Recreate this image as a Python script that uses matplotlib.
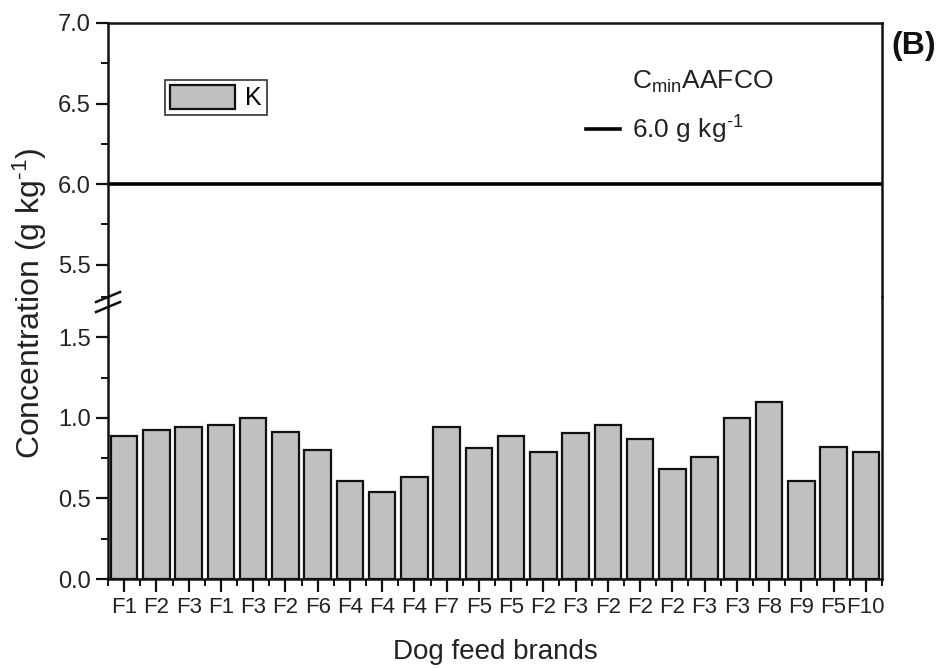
import matplotlib
matplotlib.use("Agg")
import matplotlib.pyplot as plt
from matplotlib.ticker import MultipleLocator, FixedLocator
from matplotlib.lines import Line2D
import numpy as np

plt.rcParams['font.family'] = ['Liberation Sans', 'DejaVu Sans']
plt.rcParams['mathtext.fontset'] = 'custom'
plt.rcParams['mathtext.rm'] = 'Liberation Sans'
plt.rcParams['mathtext.it'] = 'Liberation Sans:italic'
plt.rcParams['mathtext.bf'] = 'Liberation Sans:bold'
plt.rcParams['mathtext.default'] = 'regular'

brands = ['F1', 'F2', 'F3', 'F1', 'F3', 'F2', 'F6', 'F4', 'F4', 'F4', 'F7', 'F5',
          'F5', 'F2', 'F3', 'F2', 'F2', 'F2', 'F3', 'F3', 'F8', 'F9', 'F5', 'F10']
k_values = [0.89, 0.925, 0.945, 0.955, 1.00, 0.915, 0.80, 0.61, 0.54, 0.63, 0.945, 0.81,
            0.89, 0.79, 0.905, 0.955, 0.87, 0.68, 0.76, 1.00, 1.10, 0.61, 0.82, 0.79]
aafco_min = 6.0
upper_ticks = [5.5, 6.0, 6.5, 7.0]
lower_ticks = [0.0, 0.5, 1.0, 1.5]

L, R, T, B = 0.1142, 0.9323, 0.9656, 0.1332

fig = plt.figure(figsize=(9.46, 6.68), dpi=100)
gs = fig.add_gridspec(2, 1, height_ratios=[1.7, 1.75], hspace=0,
                      left=L, right=R, top=T, bottom=B)
ax_up = fig.add_subplot(gs[0])
ax_lo = fig.add_subplot(gs[1], sharex=ax_up)

x = np.arange(len(brands))
bar_kw = dict(width=0.82, color='#c0c0c0', edgecolor='#111111', linewidth=1.6)
ax_up.bar(x, k_values, label='K', **bar_kw)
ax_lo.bar(x, k_values, **bar_kw)

line = ax_up.axhline(aafco_min, color='black', linewidth=2.6)

ax_up.set_ylim(5.3, 7.0)
ax_lo.set_ylim(0.0, 1.75)
ax_lo.set_xlim(-0.5, len(brands) - 0.5)

for ax in (ax_up, ax_lo):
    for s in ax.spines.values():
        s.set_linewidth(1.8)
        s.set_color('#111111')
    ax.tick_params(axis='both', which='major', direction='out', length=9, width=1.6,
                   labelsize=17, colors='#111111', labelcolor='#222222')
    ax.tick_params(axis='both', which='minor', direction='out', length=5, width=1.4,
                   colors='#111111')
    ax.yaxis.set_minor_locator(MultipleLocator(0.25))

ax_up.spines['bottom'].set_visible(False)
ax_lo.spines['top'].set_visible(False)
ax_up.tick_params(axis='x', which='both', bottom=False, labelbottom=False)
ax_up.set_yticks(upper_ticks)
ax_up.set_yticklabels([f'{t:.1f}' for t in upper_ticks])
ax_lo.set_yticks(lower_ticks)
ax_lo.set_yticklabels([f'{t:.1f}' for t in lower_ticks])

ax_lo.set_xticks(x)
ax_lo.set_xticklabels(brands, fontsize=16)
ax_lo.xaxis.set_minor_locator(FixedLocator(np.arange(-0.5, len(brands), 1.0)))
ax_lo.tick_params(axis='x', which='major', pad=4)

# break marks on the left spine
yc = 1 - 302 / 668
for yoff in (-5 / 668, 5 / 668):
    fig.add_artist(Line2D([L - 12 / 946, L + 12 / 946],
                          [yc + yoff - 5 / 668, yc + yoff + 5 / 668],
                          color='#111111', linewidth=1.8))

ax_lo.set_xlabel('Dog feed brands', fontsize=20, labelpad=15, color='#222222')
fig.text(0.032, 1 - 303 / 668, 'Concentration (g kg$^{\\text{-1}}$)', rotation=90,
         fontsize=23, ha='center', va='center', color='#222222')

leg1 = ax_up.legend(handles=[ax_up.patches[0]], labels=['K'], loc='upper left',
                    bbox_to_anchor=(0.074, 0.792), frameon=True, fancybox=False,
                    edgecolor='#333333', framealpha=1, fontsize=18,
                    handlelength=2.6, handleheight=1.1, handletextpad=0.4,
                    borderpad=0.2, borderaxespad=0)
leg1.get_frame().set_linewidth(1.2)
ax_up.add_artist(leg1)

blank = Line2D([], [], color='none')
leg2 = ax_up.legend(handles=[blank, line],
                    labels=['C$_{min}$AAFCO', '6.0 g kg$^{\\text{-1}}$'],
                    loc='upper left', bbox_to_anchor=(0.617, 0.832), frameon=False,
                    fontsize=19, handlelength=1.3, handletextpad=0.45,
                    labelspacing=0.7, borderpad=0, borderaxespad=0)
for t in leg2.get_texts():
    t.set_color('#222222')

fig.text(0.942, 1 - 46 / 668, '(B)', fontsize=23, fontweight='bold',
         ha='left', va='center', color='#111111')

fig.savefig('out.png', dpi=100)
